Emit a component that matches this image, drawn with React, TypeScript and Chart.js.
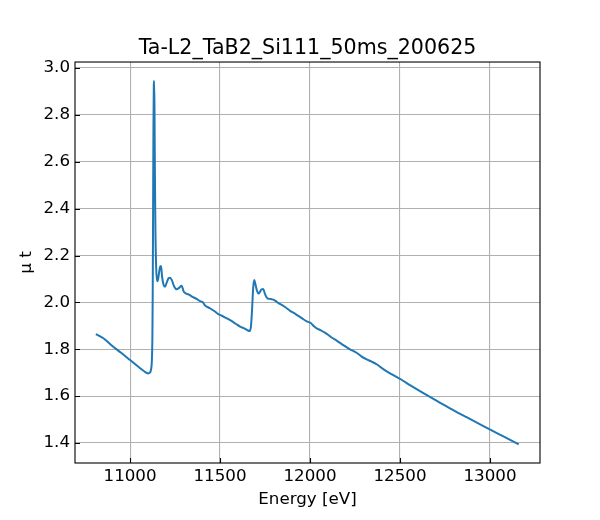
import { useEffect, useRef } from 'react';
import { Chart, registerables } from 'chart.js';

Chart.register(...registerables);

const TITLE = 'Ta-L2_TaB2_Si111_50ms_200625';
const X_LABEL = 'Energy [eV]';
const Y_LABEL = 'μ t';

// energy (eV) and absorbance
const ENERGY = [
  10810, 10850, 10900, 10950, 11000, 11056, 11080, 11100, 11110, 11117,
  11121, 11124, 11126, 11128, 11130, 11132, 11134, 11136, 11138, 11141,
  11145, 11150, 11155, 11160, 11166, 11172, 11178, 11186, 11194, 11204,
  11214, 11222, 11232, 11245, 11259, 11272, 11287, 11297, 11310, 11330,
  11350, 11370, 11389, 11405, 11415, 11426, 11444, 11470, 11490, 11510,
  11530, 11556, 11585, 11611, 11640, 11655, 11665, 11672, 11678, 11684,
  11690, 11696, 11705, 11714, 11722, 11730, 11740, 11750, 11762, 11775,
  11790, 11806, 11825, 11843, 11865, 11889, 11920, 11944, 11963, 11985,
  12004, 12020, 12037, 12060, 12083, 12100, 12120, 12150, 12185, 12220,
  12259, 12285, 12315, 12340, 12370, 12390, 12407, 12450, 12504, 12560,
  12630, 12700, 12759, 12820, 12870, 12940, 13004, 13080, 13160,
];
const MU = [
  1.865, 1.848, 1.815, 1.785, 1.754, 1.719, 1.705, 1.697, 1.7, 1.715,
  1.75, 1.85, 2.05, 2.4, 2.75, 2.93, 2.945, 2.8, 2.55, 2.3,
  2.15, 2.09, 2.095, 2.12, 2.15, 2.155, 2.11, 2.075, 2.067, 2.085,
  2.103, 2.105, 2.095, 2.068, 2.056, 2.062, 2.071, 2.048, 2.038, 2.032,
  2.022, 2.015, 2.005, 2.0, 1.988, 1.982, 1.975, 1.962, 1.95, 1.943,
  1.935, 1.924, 1.91, 1.897, 1.887, 1.88, 1.878, 1.9, 1.97, 2.06,
  2.095, 2.08, 2.05, 2.038, 2.045, 2.055, 2.057, 2.035, 2.018, 2.015,
  2.013, 2.008, 1.997, 1.989, 1.978, 1.964, 1.95, 1.938, 1.928, 1.918,
  1.912, 1.899, 1.889, 1.881, 1.871, 1.862, 1.85, 1.836, 1.818, 1.801,
  1.785, 1.77, 1.757, 1.748, 1.736, 1.725, 1.715, 1.695, 1.672, 1.645,
  1.613, 1.582, 1.556, 1.53, 1.51, 1.482, 1.456, 1.426, 1.394,
];

const X_TICKS = [11000, 11500, 12000, 12500, 13000];
const Y_TICKS = [1.4, 1.6, 1.8, 2.0, 2.2, 2.4, 2.6, 2.8, 3.0];

// matplotlib-ish frame with inward ticks
const framePlugin = {
  id: 'frame',
  afterDraw(chart: Chart) {
    const { ctx, chartArea: a, scales } = chart;
    ctx.save();
    ctx.strokeStyle = '#000';
    ctx.lineWidth = 1.1;
    ctx.beginPath();
    for (const v of X_TICKS) {
      const px = Math.round(scales.x.getPixelForValue(v)) + 0.5;
      ctx.moveTo(px, a.bottom);
      ctx.lineTo(px, a.bottom - 5);
    }
    for (const v of Y_TICKS) {
      const py = Math.round(scales.y.getPixelForValue(v)) + 0.5;
      ctx.moveTo(a.left, py);
      ctx.lineTo(a.left + 5, py);
    }
    ctx.stroke();
    ctx.strokeRect(a.left, a.top, a.right - a.left, a.bottom - a.top);
    ctx.restore();
  },
};

export default function App() {
  const canvasRef = useRef<HTMLCanvasElement>(null);

  useEffect(() => {
    if (!canvasRef.current) return;
    Chart.defaults.font.family = '"DejaVu Sans", sans-serif';
    Chart.defaults.color = '#000';

    const points = ENERGY.map((e, i) => ({ x: e, y: MU[i] }));

    const chart = new Chart(canvasRef.current, {
      type: 'line',
      data: {
        datasets: [
          {
            data: points,
            borderColor: '#1f77b4',
            borderWidth: 2,
            pointRadius: 0,
            cubicInterpolationMode: 'monotone',
            fill: false,
          },
        ],
      },
      options: {
        responsive: false,
        animation: false,
        layout: { padding: { left: 0, right: 60, top: 0, bottom: 0 } },
        plugins: {
          legend: { display: false },
          tooltip: { enabled: false },
          title: {
            display: true,
            text: TITLE,
            fullSize: false,
            font: { size: 20.6, weight: 'normal' },
            color: '#000',
            padding: { top: 36, bottom: 1.3 },
          },
        },
        scales: {
          x: {
            type: 'linear',
            min: 10694,
            max: 13278,
            afterBuildTicks: (s: any) => {
              s.ticks = X_TICKS.map((v) => ({ value: v }));
            },
            afterFit: (s: any) => {
              s.height = 57;
            },
            grid: { color: '#b0b0b0', lineWidth: 1.1, drawTicks: false },
            border: { display: false },
            ticks: {
              padding: 4,
              maxRotation: 0,
              autoSkip: false,
              font: { size: 16.7 },
              callback: (v: any) => String(v),
            },
            title: {
              display: true,
              text: X_LABEL,
              font: { size: 16.7 },
              padding: { top: 0, bottom: 10 },
            },
          },
          y: {
            type: 'linear',
            min: 1.3147,
            max: 3.0256,
            afterBuildTicks: (s: any) => {
              s.ticks = Y_TICKS.map((v) => ({ value: v }));
            },
            afterFit: (s: any) => {
              s.width = 75;
            },
            grid: { color: '#b0b0b0', lineWidth: 1.1, drawTicks: false },
            border: { display: false },
            ticks: {
              padding: 5,
              autoSkip: false,
              font: { size: 16.7 },
              callback: (v: any) => Number(v).toFixed(1),
            },
            title: {
              display: true,
              text: Y_LABEL,
              font: { size: 16.7 },
              padding: { top: 17, bottom: 0 },
            },
          },
        },
      },
      plugins: [framePlugin],
    });

    return () => chart.destroy();
  }, []);

  return (
    <div style={{ position: 'absolute', left: 0, top: 0, width: 600, height: 520, background: '#fff' }}>
      <canvas ref={canvasRef} width={600} height={520} />
    </div>
  );
}
